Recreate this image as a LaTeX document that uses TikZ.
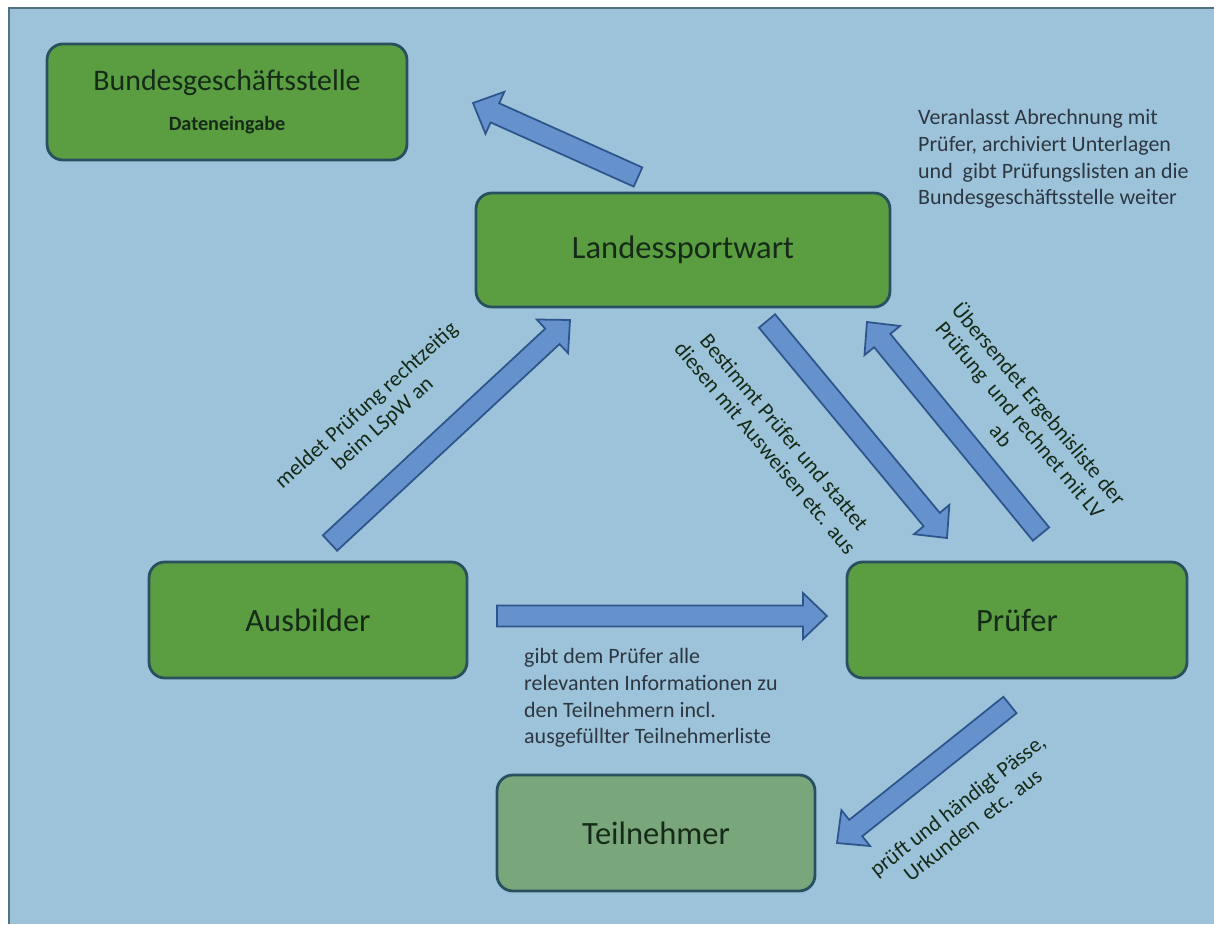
\documentclass[tikz,border=0pt]{standalone}
\usepackage{fontspec}
\setmainfont{Carlito}
\usetikzlibrary{calc}

\definecolor{sheet}{RGB}{157,195,218}
\definecolor{boxgreen}{RGB}{91,158,66}
\definecolor{palegreen}{RGB}{122,166,124}
\definecolor{boxline}{RGB}{40,80,95}
\definecolor{arrowblue}{RGB}{101,146,204}
\definecolor{arrowline}{RGB}{45,85,140}
\definecolor{labeltext}{RGB}{22,42,24}
\definecolor{notetext}{RGB}{45,55,65}

\tikzset{
  role box/.style={
    draw=boxline,
    line width=1.6pt,
    fill=boxgreen,
    rounded corners=9pt,
    minimum height=2.32cm,
    align=center,
    text=labeltext,
    font=\fontsize{18.5}{22}\selectfont,
  },
  fat arrow/.style={
    draw=arrowline,
    fill=arrowblue,
    line width=1pt,
    line join=miter,
  },
  note/.style={
    text=notetext,
    align=left,
    font=\fontsize{12.5}{15.2}\selectfont,
  },
  arrow note/.style={
    text=labeltext,
    align=center,
    inner sep=0pt,
    font=\fontsize{12.5}{14}\selectfont,
  },
}

% block arrow from #1 to #2
\newcommand{\shaftw}{0.21cm}
\newcommand{\headw}{0.46cm}
\newcommand{\headlen}{0.48cm}
\newcommand{\fatarrow}[2]{%
  \path ($(#2)!\headlen!(#1)$) coordinate (hb);
  \draw[fat arrow] ($(#1)!\shaftw!90:(#2)$) -- ($(hb)!\shaftw!90:(#2)$)
    -- ($(hb)!\headw!90:(#2)$) -- (#2) -- ($(hb)!\headw!-90:(#2)$)
    -- ($(hb)!\shaftw!-90:(#2)$) -- ($(#1)!\shaftw!-90:(#2)$) -- cycle;
}

\begin{document}
\begin{tikzpicture}[x=0.02cm, y=-0.02cm]
  \useasboundingbox (0,0) rectangle (1214,924);
  \fill[white] (0,0) rectangle (1214,924);
  \fill[sheet] (8,7) rectangle (1214,924);
  \draw[boxline!80, line width=1.4pt] (1214,8) -- (9,8) -- (9,924);

  \node[role box, minimum width=7.2cm] (bgs) at (227,102)
    {\fontsize{17}{20}\selectfont Bundesgeschäftsstelle\\[1pt]
     {\bfseries\fontsize{11.5}{14}\selectfont Dateneingabe}};
  \node[role box, minimum width=8.28cm, minimum height=2.28cm] (lsw) at (683,250) {Landessportwart};
  \node[role box, minimum width=6.36cm] (ausb) at (308,620) {Ausbilder};
  \node[role box, minimum width=6.8cm] (pruef) at (1017,620) {Prüfer};
  \node[role box, minimum width=6.36cm, fill=palegreen] (teil) at (656,833) {Teilnehmer};

  \coordinate (lsw-out) at (638,177);
  \coordinate (bgs-in) at (473,103);
  \coordinate (ausb-out) at (330,543);
  \coordinate (lsw-in) at (570,320);
  \coordinate (lsw-down) at (767,321);
  \coordinate (pruef-in) at (947,538);
  \coordinate (pruef-up) at (1041,534);
  \coordinate (lsw-back) at (867,322);
  \coordinate (ausb-right) at (497,616);
  \coordinate (pruef-left) at (827,616);
  \coordinate (pruef-out) at (1010,705);
  \coordinate (teil-in) at (837,843);

  \fatarrow{lsw-out}{bgs-in}
  \fatarrow{ausb-out}{lsw-in}
  \fatarrow{lsw-down}{pruef-in}
  \fatarrow{pruef-up}{lsw-back}
  \fatarrow{ausb-right}{pruef-left}
  \fatarrow{pruef-out}{teil-in}

  \node[note, anchor=west] (abrech) at (912,159)
    {Veranlasst Abrechnung mit\\Prüfer, archiviert Unterlagen\\und\ \ gibt Prüfungslisten an die\\Bundesgeschäftsstelle weiter};
  \node[note, anchor=west] (infos) at (518,698)
    {gibt dem Prüfer alle\\relevanten Informationen zu\\den Teilnehmern incl.\\ausgefüllter Teilnehmerliste};

  \node[arrow note, rotate=42] (meldet) at (375,415)
    {meldet Prüfung rechtzeitig\\beim LSpW an};
  \node[arrow note, rotate=-50] (bestimmt) at (775,440)
    {Bestimmt Prüfer und stattet\\diesen mit Ausweisen etc. aus};
  \node[arrow note, rotate=-50] (uebersendet) at (1021,419)
    {Übersendet Ergebnisliste der\\Prüfung\ \ und rechnet mit LV\\ab};
  \node[arrow note, rotate=38] (aushaendigen) at (965,815)
    {prüft und händigt Pässe,\\Urkunden\ \ etc. aus};
\end{tikzpicture}
\end{document}
